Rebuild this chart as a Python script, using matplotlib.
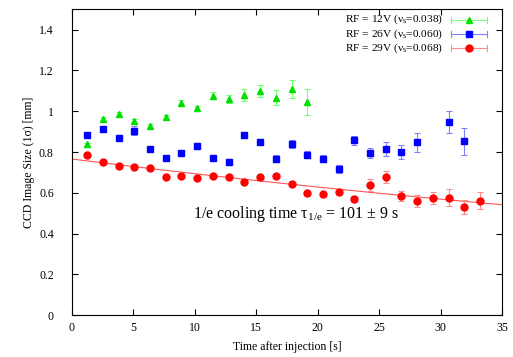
import numpy as np
import matplotlib
matplotlib.use('Agg')
import matplotlib.pyplot as plt
from matplotlib.ticker import FuncFormatter

plt.rcParams['font.family'] = 'Liberation Serif'
plt.rcParams['mathtext.fontset'] = 'custom'
plt.rcParams['mathtext.rm'] = 'Liberation Serif'
plt.rcParams['mathtext.it'] = 'Liberation Serif:italic'

# RF = 12V
t_12 = [1.25, 2.5, 3.8, 5.07, 6.35, 7.65, 8.9, 10.15, 11.47, 12.75, 14.0, 15.3, 16.57, 17.87, 19.12]
s_12 = [0.838, 0.962, 0.987, 0.954, 0.928, 0.970, 1.041, 1.015, 1.077, 1.060, 1.080, 1.100, 1.067, 1.109, 1.046]
e_12 = [0.008, 0.010, 0.010, 0.010, 0.008, 0.010, 0.012, 0.012, 0.018, 0.020, 0.031, 0.031, 0.038, 0.046, 0.064]

# RF = 26V
t_26 = [1.25, 2.5, 3.8, 5.07, 6.35, 7.65, 8.9, 10.15, 11.47, 12.75, 14.0, 15.3, 16.57, 17.87,
        19.12, 20.4, 21.7, 22.95, 24.25, 25.55, 26.8, 28.07, 30.65, 31.92]
s_26 = [0.882, 0.912, 0.871, 0.905, 0.815, 0.773, 0.796, 0.831, 0.773, 0.751, 0.885, 0.850, 0.768, 0.841,
        0.787, 0.768, 0.719, 0.858, 0.794, 0.814, 0.799, 0.848, 0.946, 0.853]
e_26 = [0.010, 0.010, 0.010, 0.022, 0.010, 0.010, 0.010, 0.012, 0.010, 0.014, 0.014, 0.015, 0.016, 0.020,
        0.018, 0.018, 0.020, 0.022, 0.025, 0.034, 0.034, 0.046, 0.053, 0.067]

# RF = 29V
t_29 = [1.25, 2.5, 3.8, 5.07, 6.35, 7.65, 8.9, 10.15, 11.47, 12.75, 14.0, 15.3, 16.57, 17.87,
        19.12, 20.4, 21.7, 22.95, 24.25, 25.55, 26.8, 28.07, 29.37, 30.65, 31.92, 33.2]
s_29 = [0.784, 0.753, 0.732, 0.727, 0.724, 0.680, 0.685, 0.672, 0.681, 0.680, 0.652, 0.676, 0.683, 0.642,
        0.598, 0.593, 0.604, 0.568, 0.639, 0.676, 0.586, 0.559, 0.575, 0.577, 0.529, 0.562]
e_29 = [0.008, 0.008, 0.008, 0.008, 0.008, 0.008, 0.008, 0.008, 0.008, 0.008, 0.008, 0.008, 0.010, 0.010,
        0.010, 0.012, 0.015, 0.015, 0.030, 0.030, 0.025, 0.030, 0.030, 0.040, 0.035, 0.040]

# exponential fit for 29V
fit_a = 0.766
fit_tau = 101.0

fig = plt.figure(figsize=(5.13, 3.57), dpi=100, facecolor='white')
ax = fig.add_axes([0.140, 0.117, 0.839, 0.857])

green = '#00e000'
blue = '#0000ff'
red = '#ff0000'
lgreen = (0.45, 1.0, 0.45)
lblue = (0.5, 0.5, 1.0)
lred = (1.0, 0.55, 0.55)

tt = np.linspace(0, 35, 200)
ax.plot(tt, fit_a * np.exp(-tt / fit_tau), '-', color='#ff5555', lw=0.8)

ax.errorbar(t_12, s_12, yerr=e_12, fmt='^', color=green, ms=4.5, ecolor=lgreen,
            elinewidth=0.8, capsize=2.5, capthick=0.8)
ax.errorbar(t_26, s_26, yerr=e_26, fmt='s', color=blue, ms=5, ecolor=lblue,
            elinewidth=0.8, capsize=2.5, capthick=0.8)
ax.errorbar(t_29, s_29, yerr=e_29, fmt='o', color=red, ms=5, ecolor=lred,
            elinewidth=0.8, capsize=2.5, capthick=0.8)

ax.set_xlim(0, 35)
ax.set_ylim(0, 1.5)
ax.set_xticks(np.arange(0, 36, 5))
ax.set_yticks(np.arange(0, 1.41, 0.2))
ax.yaxis.set_major_formatter(FuncFormatter(lambda v, p: '%g' % round(v, 2)))
ax.tick_params(direction='in', top=True, right=True, length=4, width=0.8, labelsize=8.5)
ax.tick_params(axis='x', pad=5)
ax.tick_params(axis='y', pad=13)
for sp in ax.spines.values():
    sp.set_linewidth(0.8)

ax.set_xlabel('Time after injection [s]', fontsize=8.5, labelpad=5)
ax.set_ylabel('CCD Image Size (1σ) [mm]', fontsize=8.5, labelpad=3)

ax.text(0.522, 0.33, '1/e cooling time τ$_{\\mathrm{1/e}}$ = 101 ± 9 s', transform=ax.transAxes,
        ha='center', va='center', fontsize=11.5)

# legend drawn by hand, gnuplot style
labels = ['RF = 12V (ν$_{\\mathrm{s}}$=0.038)', 'RF = 26V (ν$_{\\mathrm{s}}$=0.060)',
          'RF = 29V (ν$_{\\mathrm{s}}$=0.068)']
markers = ['^', 's', 'o']
mcols = [green, blue, red]
lcols = [lgreen, lblue, lred]
ys = [0.966, 0.920, 0.874]
for lab, m, mc, lc, y in zip(labels, markers, mcols, lcols, ys):
    ax.text(0.863, y, lab, transform=ax.transAxes, ha='right', va='center', fontsize=8.2)
    ax.plot([0.880, 0.965], [y, y], '-', color=lc, lw=0.8, transform=ax.transAxes)
    ax.plot([0.880, 0.880], [y - 0.01, y + 0.01], '-', color=lc, lw=0.8, transform=ax.transAxes)
    ax.plot([0.965, 0.965], [y - 0.01, y + 0.01], '-', color=lc, lw=0.8, transform=ax.transAxes)
    ax.plot([0.923], [y], m, color=mc, ms=5, transform=ax.transAxes)

fig.savefig('out.png', dpi=100)
